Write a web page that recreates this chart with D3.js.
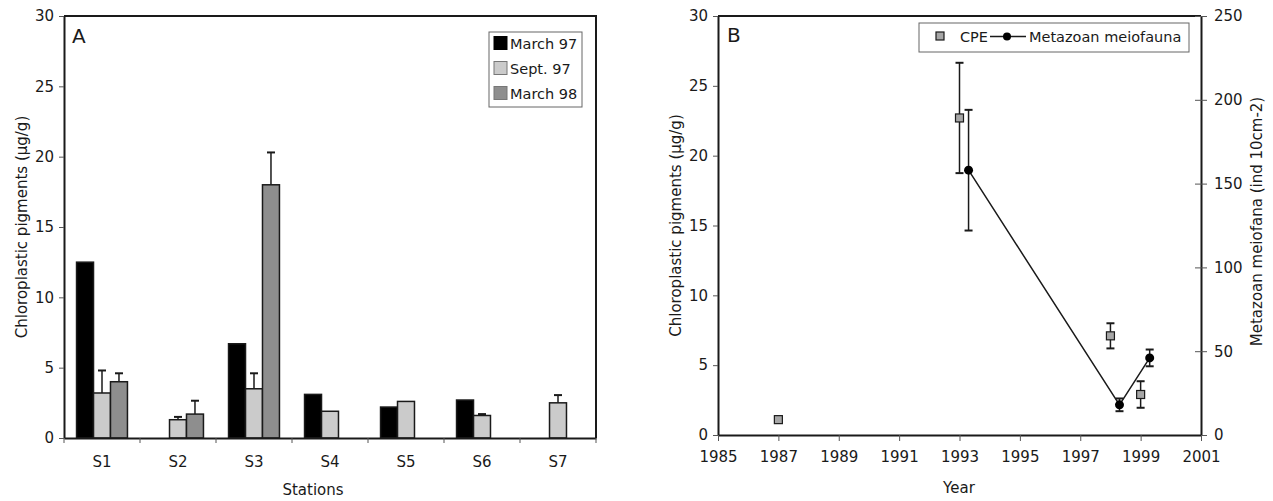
<!DOCTYPE html>
<html><head><meta charset="utf-8">
<script src="https://cdn.jsdelivr.net/npm/d3@7"></script>
<style>
body{margin:0;background:#fff;}
svg{display:block;font-family:"DejaVu Sans",Verdana,sans-serif;}
text{fill:#1a1a1a;}
</style></head><body>
<svg id="c" width="1273" height="501"></svg>
<script>
// ---------- Panel A data ----------
const stations = ["S1","S2","S3","S4","S5","S6","S7"];
const seriesNames = ["March 97","Sept. 97","March 98"];
const march97 = [12.5, null, 6.7, 3.1, 2.2, 2.7, null];
const sept97  = [3.2, 1.3, 3.5, 1.9, 2.6, 1.6, 2.5];
const march98 = [4.0, 1.7, 18.0, null, null, null, null];
const march97Err = [null, null, null, null, null, null, null];
const sept97Err  = [1.6, 0.2, 1.1, null, null, 0.1, 0.55];
const march98Err = [0.6, 0.95, 2.3, null, null, null, null];
const yTicksA = [0,5,10,15,20,25,30];

// ---------- Panel B data ----------
const cpeYears  = [1987, 1993, 1998, 1999];
const cpeValues = [1.1, 22.7, 7.1, 2.9];
const cpeErr    = [null, 3.95, 0.9, 0.95];
const meioYears  = [1993.3, 1998.3, 1999.3];
const meioValues = [158, 18, 46];
const meioErr    = [36, 3.8, 5];
const yearTicks = [1985,1987,1989,1991,1993,1995,1997,1999,2001];
const yTicksB = [0,5,10,15,20,25,30];
const yTicksB2 = [0,50,100,150,200,250];

const svg = d3.select("#c");
const ink = "#1a1a1a";
const seriesColors = ["#000000","#cbcbcb","#8e8e8e"];

// ================= Panel A =================
const A = {l:64, r:596, t:16, b:438};
const x0 = d3.scaleBand().domain(stations).range([A.l, A.r]).padding(0);
const bw = x0.bandwidth();
const x1 = d3.scaleBand().domain(seriesNames).range([bw*0.165, bw*0.835]).padding(0);
const yA = d3.scaleLinear().domain([0,30]).range([A.b, A.t]);

const gA = svg.append("g");
// frame top/right
gA.append("path").attr("d",`M${A.l},${A.t}H${A.r}V${A.b}`).attr("fill","none").attr("stroke",ink).attr("stroke-width",2);

const seriesVals = [march97, sept97, march98];
const seriesErrs = [march97Err, sept97Err, march98Err];
const bars = [];
seriesNames.forEach((s,si)=>{
  stations.forEach((st,i)=>{
    const v = seriesVals[si][i];
    if(v==null) return;
    bars.push({s, si, st, v, e: seriesErrs[si][i]});
  });
});
// error bars (upward)
const eg = gA.append("g");
bars.filter(d=>d.e!=null).forEach(d=>{
  const cx = x0(d.st)+x1(d.s)+x1.bandwidth()/2;
  eg.append("line").attr("x1",cx).attr("x2",cx).attr("y1",yA(d.v)).attr("y2",yA(d.v+d.e)).attr("stroke",ink).attr("stroke-width",1.5);
  eg.append("line").attr("x1",cx-4).attr("x2",cx+4).attr("y1",yA(d.v+d.e)).attr("y2",yA(d.v+d.e)).attr("stroke",ink).attr("stroke-width",2);
});
gA.append("g").selectAll("rect").data(bars).join("rect")
  .attr("x",d=>x0(d.st)+x1(d.s))
  .attr("width",x1.bandwidth())
  .attr("y",d=>yA(d.v))
  .attr("height",d=>yA(0)-yA(d.v))
  .attr("fill",d=>seriesColors[d.si])
  .attr("stroke",ink).attr("stroke-width",1.5);

// y axis A
const axA = gA.append("g").attr("transform",`translate(${A.l},0)`)
  .call(d3.axisLeft(yA).tickValues(yTicksA).tickSize(5).tickPadding(5).tickSizeOuter(0));
axA.select(".domain").attr("stroke",ink).attr("stroke-width",2);
axA.selectAll(".tick line").attr("stroke","#555");
axA.selectAll(".tick text").attr("font-size",15).attr("font-family","DejaVu Sans").attr("fill",ink);

// x axis A with ticks at band boundaries
const axXA = gA.append("g").attr("transform",`translate(0,${A.b})`)
  .call(d3.axisBottom(x0).tickSize(0).tickPadding(18).tickSizeOuter(0));
axXA.select(".domain").attr("stroke",ink).attr("stroke-width",2);
axXA.selectAll(".tick text").attr("font-size",15).attr("font-family","DejaVu Sans").attr("fill",ink);
const bounds = stations.map(s=>x0(s)).concat([A.r]);
gA.append("g").selectAll("line").data(bounds).join("line")
  .attr("x1",d=>d).attr("x2",d=>d).attr("y1",A.b).attr("y2",A.b+5).attr("stroke","#555");

gA.append("text").attr("x",(A.l+A.r)/2-17).attr("y",495).attr("text-anchor","middle").attr("font-size",15).text("Stations");
gA.append("text").attr("transform",`translate(27,${(A.t+A.b)/2}) rotate(-90)`).attr("text-anchor","middle").attr("font-size",15).text("Chloroplastic pigments (µg/g)");
gA.append("text").attr("x",72).attr("y",43).attr("font-size",20).text("A");

// legend A
const lgA = gA.append("g");
lgA.append("rect").attr("x",489).attr("y",32).attr("width",93).attr("height",75).attr("fill","#fff").attr("stroke","#666").attr("stroke-width",1);
seriesNames.forEach((s,i)=>{
  const cy = 43 + i*25;
  lgA.append("rect").attr("x",494).attr("y",cy-6.5).attr("width",13).attr("height",13).attr("fill",seriesColors[i]).attr("stroke",i==0?"#000":"#777").attr("stroke-width",1);
  lgA.append("text").attr("x",510).attr("y",cy+5.5).attr("font-size",14.5).text(s);
});

// ================= Panel B =================
const B = {l:718, r:1201, t:16, b:435};
const xB = d3.scaleLinear().domain([1985,2001]).range([B.l,B.r]);
const yB = d3.scaleLinear().domain([0,30]).range([B.b,B.t]);
const yB2 = d3.scaleLinear().domain([0,250]).range([B.b,B.t]);
const gB = svg.append("g");
gB.append("line").attr("x1",B.l).attr("x2",B.r).attr("y1",B.t).attr("y2",B.t).attr("stroke",ink).attr("stroke-width",2);

const axBL = gB.append("g").attr("transform",`translate(${B.l},0)`)
  .call(d3.axisLeft(yB).tickValues(yTicksB).tickSize(5).tickPadding(5).tickSizeOuter(0));
axBL.select(".domain").attr("stroke",ink).attr("stroke-width",2);
axBL.selectAll(".tick line").attr("stroke","#555");
axBL.selectAll(".tick text").attr("font-size",15).attr("font-family","DejaVu Sans").attr("fill",ink);

const axBR = gB.append("g").attr("transform",`translate(${B.r},0)`)
  .call(d3.axisRight(yB2).tickValues(yTicksB2).tickSize(6).tickPadding(7).tickSizeOuter(0));
axBR.select(".domain").attr("stroke",ink).attr("stroke-width",2);
axBR.selectAll(".tick line").attr("stroke","#555").attr("x1",-6);
axBR.selectAll(".tick text").attr("font-size",15).attr("font-family","DejaVu Sans").attr("fill",ink);

const axBX = gB.append("g").attr("transform",`translate(0,${B.b})`)
  .call(d3.axisBottom(xB).tickValues(yearTicks).tickFormat(d3.format("d")).tickSize(6).tickPadding(10).tickSizeOuter(0));
axBX.select(".domain").attr("stroke",ink).attr("stroke-width",2);
axBX.selectAll(".tick line").attr("stroke","#555");
axBX.selectAll(".tick text").attr("font-size",15).attr("font-family","DejaVu Sans").attr("fill",ink);

gB.append("text").attr("x",959).attr("y",493).attr("text-anchor","middle").attr("font-size",15).text("Year");
gB.append("text").attr("transform",`translate(681,${(B.t+B.b)/2}) rotate(-90)`).attr("text-anchor","middle").attr("font-size",15).text("Chloroplastic pigments (µg/g)");
gB.append("text").attr("transform",`translate(1262,${(B.t+B.b)/2-4}) rotate(-90)`).attr("text-anchor","middle").attr("font-size",15).text("Metazoan meiofana (ind 10cm-2)");
gB.append("text").attr("x",727).attr("y",42).attr("font-size",20).text("B");

// error bar helper
function errBar(g, cx, y1, y2){
  g.append("line").attr("x1",cx).attr("x2",cx).attr("y1",y1).attr("y2",y2).attr("stroke",ink).attr("stroke-width",1.5);
  [y1,y2].forEach(y=>g.append("line").attr("x1",cx-4).attr("x2",cx+4).attr("y1",y).attr("y2",y).attr("stroke",ink).attr("stroke-width",2));
}
const eB = gB.append("g");
cpeYears.forEach((yr,i)=>{
  if(cpeErr[i]!=null) errBar(eB, xB(yr), yB(cpeValues[i]-cpeErr[i]), yB(cpeValues[i]+cpeErr[i]));
});
meioYears.forEach((yr,i)=>{
  errBar(eB, xB(yr), yB2(meioValues[i]-meioErr[i]), yB2(meioValues[i]+meioErr[i]));
});
// meiofauna line
gB.append("path").datum(meioYears.map((yr,i)=>[yr,meioValues[i]]))
  .attr("d",d3.line().x(d=>xB(d[0])).y(d=>yB2(d[1])))
  .attr("fill","none").attr("stroke",ink).attr("stroke-width",1.5);
gB.append("g").selectAll("circle").data(meioYears.map((yr,i)=>[yr,meioValues[i]])).join("circle")
  .attr("cx",d=>xB(d[0])).attr("cy",d=>yB2(d[1])).attr("r",4.5).attr("fill","#000");
gB.append("g").selectAll("rect").data(cpeYears.map((yr,i)=>[yr,cpeValues[i]])).join("rect")
  .attr("x",d=>xB(d[0])-4).attr("y",d=>yB(d[1])-4).attr("width",8).attr("height",8)
  .attr("fill","#a6a6a6").attr("stroke",ink).attr("stroke-width",1.2);

// legend B
const lgB = gB.append("g");
lgB.append("rect").attr("x",919).attr("y",23).attr("width",270).attr("height",29).attr("fill","#fff").attr("stroke","#666").attr("stroke-width",1);
lgB.append("rect").attr("x",936).attr("y",32).attr("width",8).attr("height",8).attr("fill","#a6a6a6").attr("stroke",ink).attr("stroke-width",1.2);
lgB.append("text").attr("x",960).attr("y",42).attr("font-size",14.5).text("CPE");
lgB.append("line").attr("x1",990).attr("x2",1026).attr("y1",36.5).attr("y2",36.5).attr("stroke",ink).attr("stroke-width",1.5);
lgB.append("circle").attr("cx",1007).attr("cy",36.5).attr("r",4).attr("fill","#000");
lgB.append("text").attr("x",1029).attr("y",42).attr("font-size",14.5).text("Metazoan meiofauna");
</script>
</body></html>
